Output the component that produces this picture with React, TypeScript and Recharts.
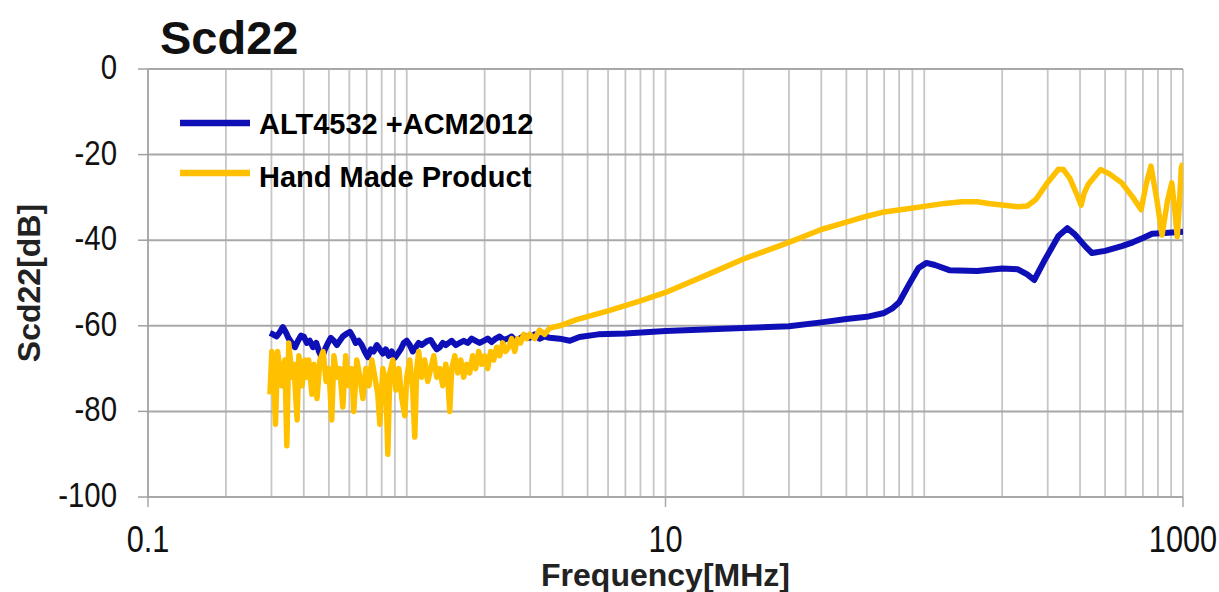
import React from "react";
import { LineChart, Line, XAxis, YAxis, CartesianGrid, Legend, Label } from "recharts";

// ALT4532 +ACM2012 (blue)
const altFreq = [
  0.296, 0.304, 0.314, 0.323, 0.332, 0.341, 0.35, 0.36, 0.37, 0.38,
  0.39, 0.4, 0.411, 0.422, 0.434, 0.447, 0.458, 0.47, 0.483, 0.496,
  0.509, 0.523, 0.537, 0.551, 0.566, 0.587, 0.603, 0.618, 0.635, 0.652,
  0.67, 0.688, 0.707, 0.726, 0.745, 0.766, 0.787, 0.808, 0.83, 0.852,
  0.875, 0.899, 0.923, 0.948, 0.974, 1.0, 1.027, 1.055, 1.083, 1.112,
  1.142, 1.173, 1.205, 1.238, 1.272, 1.306, 1.341, 1.378, 1.415, 1.453,
  1.492, 1.546, 1.602, 1.66, 1.72, 1.782, 1.847, 1.913, 1.982, 2.055,
  2.129, 2.206, 2.286, 2.369, 2.454, 2.543, 2.635, 2.731, 2.855, 2.985,
  3.12, 3.26, 3.41, 3.57, 3.9, 4.27, 4.65,
  5.5, 7, 10, 15, 20, 30, 40, 50, 60, 70,
  75, 80, 87, 95, 102, 110, 125, 160, 200, 230,
  250, 266, 290, 330, 357, 380, 420, 445, 500, 580,
  640, 700, 760, 850, 1000,
];
const altDb = [
  -61.7, -62, -62.5, -61.5, -60.3, -61.5, -63, -64, -65, -63.5,
  -62.3, -62.5, -64, -63.5, -65, -64, -66, -67.5, -65.5, -64,
  -62.8, -63.5, -64.5, -63.5, -62.5, -61.8, -61.4, -62.5, -64, -63.5,
  -64.5, -66, -67.3, -65.5, -66, -64.5, -65.5, -66.5, -65.5, -67,
  -66, -67.5, -66.5, -65.5, -64, -63.5, -64.5, -66, -65, -64,
  -64.5, -64, -63.5, -63.3, -64.5, -65.5, -65, -64, -64.5, -64,
  -63.5, -64.5, -64, -63.5, -64, -63, -63.5, -64, -63.5, -63,
  -63.8, -63, -62.5, -63.3, -63, -62.5, -63.5, -63, -62.3, -62.8,
  -62, -63, -62.5, -62.8, -63, -63.5, -62.6,
  -62, -61.8, -61.2, -60.8, -60.5, -60.1, -59.2, -58.4, -57.9, -57,
  -56, -54.5, -50.5, -46.5, -45.3, -45.8, -47, -47.2, -46.6, -46.8,
  -48, -49.3, -45, -39, -37.2, -38.5, -41.5, -43, -42.5, -41.4,
  -40.5, -39.5, -38.5, -38.3, -38,
];

// Hand Made Product (yellow)
const handFreq = [
  0.296, 0.301, 0.306, 0.311, 0.317, 0.323, 0.328, 0.338, 0.344, 0.35,
  0.36, 0.366, 0.377, 0.383, 0.394, 0.404, 0.411, 0.418, 0.43, 0.438,
  0.45, 0.462, 0.475, 0.488, 0.5, 0.513, 0.523, 0.537, 0.551, 0.566,
  0.581, 0.597, 0.613, 0.624, 0.641, 0.659, 0.677, 0.695, 0.714, 0.733,
  0.753, 0.773, 0.787, 0.808, 0.83, 0.845, 0.86, 0.883, 0.907, 0.932,
  0.957, 0.983, 1.0, 1.027, 1.055, 1.074, 1.093, 1.112, 1.142, 1.173,
  1.205, 1.238, 1.272, 1.306, 1.341, 1.378, 1.415, 1.44, 1.466, 1.492,
  1.533, 1.574, 1.617, 1.66, 1.705, 1.751, 1.798, 1.847, 1.897, 1.948,
  2.0, 2.055, 2.11, 2.168, 2.226, 2.286, 2.348, 2.411, 2.476, 2.543,
  2.612, 2.682, 2.755, 2.829, 2.905, 2.985, 3.12, 3.26, 3.41, 3.57,
  3.9,
  4.5, 6, 8, 10, 15, 20, 30, 40, 50, 60,
  70, 85, 100, 120, 140, 160, 180, 200, 230, 250,
  270, 300, 330, 345, 365, 390, 404, 415, 430, 480,
  520, 580, 640, 689, 720, 752, 790, 830, 870, 905,
  930, 950, 970, 985, 1000,
];
const handDb = [
  -76, -66, -72, -83, -66, -70, -74, -68, -88, -64,
  -72, -69, -82, -67, -74, -68, -72, -68, -76, -69,
  -77, -68, -66, -73, -70, -82, -67, -72, -70, -79,
  -67, -74, -70, -80, -68, -72, -77, -70, -74, -68,
  -72, -76, -83, -70, -73, -90, -71, -68, -75, -70,
  -77, -81, -72, -68, -75, -86, -70, -66, -72, -68,
  -73, -70, -67, -72, -70, -74, -69, -72, -80, -70,
  -67, -71, -68, -72, -69, -71, -67, -70, -66, -69,
  -67, -70, -66, -68, -65, -67, -64, -66, -65, -63,
  -66, -63, -64, -62, -63, -62, -63, -61, -62, -60.5,
  -60,
  -58.6, -56.5, -54.2, -52.2, -47.7, -44.4, -40.5, -37.5, -35.8, -34.4,
  -33.4, -32.7, -32.1, -31.4, -31, -31, -31.5, -31.8, -32.2, -32,
  -30.5, -26.5, -23.4, -23.5, -25.5, -29.5, -31.8, -29, -27, -23.5,
  -24.5, -26.6, -30, -32.9, -27, -22.7, -30, -38.8, -31, -26.6,
  -33, -39.2, -31, -23, -22,
];

const freqGrid = [
  0.1, 0.2, 0.3, 0.4, 0.5, 0.6, 0.7, 0.8, 0.9,
  1, 2, 3, 4, 5, 6, 7, 8, 9,
  10, 20, 30, 40, 50, 60, 70, 80, 90,
  100, 200, 300, 400, 500, 600, 700, 800, 900, 1000,
];
const freqLabels = [0.1, 10, 1000];
const dbTicks = [-100, -80, -60, -40, -20, 0];

const altData = altFreq.map((f, i) => ({ f, db: altDb[i] }));
const handData = handFreq.map((f, i) => ({ f, db: handDb[i] }));

const FONT = '"Liberation Sans", Arial, sans-serif';

function FreqTick(props: any) {
  const { x, y, payload } = props;
  if (!freqLabels.includes(payload.value)) return <g />;
  return (
    <g>
      <line x1={x} x2={x} y1={y} y2={y + 10} stroke="#a8a8a8" strokeWidth={1.5} />
      <g transform={`translate(${x},${y + 55}) scale(0.83,1)`}>
        <text textAnchor="middle" fontSize={37} fontFamily={FONT} fill="#111">
          {payload.value}
        </text>
      </g>
    </g>
  );
}

function DbTick(props: any) {
  const { x, y, payload } = props;
  return (
    <g>
      <line x1={x - 10} x2={x} y1={y} y2={y} stroke="#a0a0a0" strokeWidth={1.5} />
      <g transform={`translate(${x - 31},${y + 10}) scale(0.84,1)`}>
        <text textAnchor="end" fontSize={35} fontFamily={FONT} fill="#111">
          {payload.value}
        </text>
      </g>
    </g>
  );
}

function renderLegend(props: any) {
  const items = props.payload || [];
  return (
    <svg width={600} height={200} style={{ display: "block" }}>
      {items.map((it: any, i: number) => {
        const ly = 123 + 50 * i;
        return (
          <g key={i}>
            <line x1={180} x2={250} y1={ly} y2={ly} stroke={it.color} strokeWidth={6.5} />
            <text x={259} y={ly + 11 + 3 * i} fontSize={29} fontWeight="bold" fontFamily={FONT} fill="#000">
              {it.value}
            </text>
          </g>
        );
      })}
    </svg>
  );
}

export default function App() {
  return (
    <div style={{ position: "absolute", left: 0, top: 0, width: 1219, height: 592, background: "#fff" }}>
      <LineChart width={1219} height={592} margin={{ top: 69, right: 36, bottom: 0, left: 0 }}>
        <CartesianGrid horizontal={false} stroke="#c6c6c6" strokeWidth={1.8} />
        <CartesianGrid vertical={false} stroke="#a8a8a8" strokeWidth={2} />
        <XAxis
          dataKey="f"
          type="number"
          scale="log"
          domain={[0.1, 1000]}
          allowDataOverflow
          ticks={freqGrid}
          interval={0}
          tick={<FreqTick />}
          tickLine={false}
          tickSize={0}
          tickMargin={0}
          height={95}
          axisLine={{ stroke: "#a8a8a8", strokeWidth: 2 }}
        >
          <Label
            content={(p: any) => {
              const vb = p.viewBox;
              return (
                <text x={vb.x + vb.width / 2} y={vb.y + 89} textAnchor="middle" fontSize={32} fontWeight="bold" fontFamily={FONT} fill="#222">
                  Frequency[MHz]
                </text>
              );
            }}
          />
        </XAxis>
        <YAxis
          type="number"
          domain={[-100, 0]}
          ticks={dbTicks}
          interval={0}
          width={148}
          tick={<DbTick />}
          tickLine={false}
          tickSize={0}
          tickMargin={0}
          axisLine={{ stroke: "#a0a0a0", strokeWidth: 1.5 }}
        >
          <Label
            content={(p: any) => {
              const vb = p.viewBox;
              const cx = vb.x + 29;
              const cy = vb.y + vb.height / 2;
              return (
                <text x={cx} y={cy} transform={`rotate(-90 ${cx} ${cy})`} textAnchor="middle" dominantBaseline="central" fontSize={32} fontWeight="bold" fontFamily={FONT} fill="#222">
                  Scd22[dB]
                </text>
              );
            }}
          />
        </YAxis>
        <Legend
          content={renderLegend}
          layout="horizontal"
          verticalAlign="middle"
          align="center"
          wrapperStyle={{ left: 0, top: 0, width: 600, height: 200 }}
        />
        <Line data={altData} dataKey="db" name="ALT4532 +ACM2012" type="linear" stroke="#0f0fb8" strokeWidth={6} strokeLinejoin="round" dot={false} activeDot={false} isAnimationActive={false} />
        <Line data={handData} dataKey="db" name="Hand Made Product" type="linear" stroke="#ffc000" strokeWidth={5.5} strokeLinejoin="round" dot={false} activeDot={false} isAnimationActive={false} />
      </LineChart>
      <svg width={1219} height={592} style={{ position: "absolute", left: 0, top: 0, pointerEvents: "none" }}>
        <text x={160} y={54} fontSize={47} fontWeight="bold" fontFamily={FONT} fill="#111">
          Scd22
        </text>
      </svg>
    </div>
  );
}
